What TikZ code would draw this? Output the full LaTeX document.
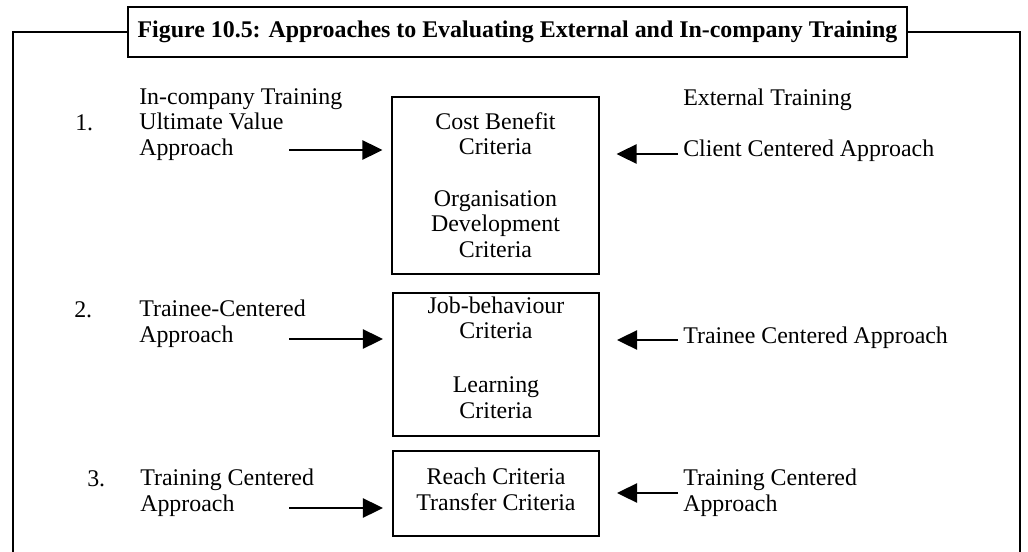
\documentclass[tikz,border=0pt]{standalone}
\usepackage{fontspec}
\setmainfont{Liberation Serif}
\usetikzlibrary{arrows.meta,positioning}

\begin{document}
\begin{tikzpicture}[
    x=0.025cm, y=-0.025cm,
    every node/.style={font=\fontsize{17}{18}\selectfont, inner sep=0pt},
    lbl/.style={anchor=base west, align=left},
    crit/.style={anchor=base, align=center},
    critbox/.style={draw, line width=1.4pt, minimum width=5.15cm},
    arr/.style={-{Triangle[length=5mm,width=4.8mm]}, line width=1.2pt},
    frame/.style={line width=1.6pt}
]
\useasboundingbox (0,0) rectangle (1028,552);

% title and open frame
\node[draw, frame, minimum width=19.475cm, minimum height=1.25cm,
      font=\bfseries\fontsize{17}{18}\selectfont] (title) at (517.5,32)
      {Figure 10.5: Approaches to Evaluating External and In-company Training};
\coordinate (ftl) at (13,32);
\coordinate (fbl) at (13,552);
\coordinate (ftr) at (1020,32);
\coordinate (fbr) at (1020,552);
\draw[frame] (title.west) -- (ftl) -- (fbl);
\draw[frame] (title.east) -- (ftr) -- (fbr);

% criteria boxes (base = last line)
\node[critbox, minimum height=4.425cm] (box1) at (495.5,185.5) {};
\node[critbox, minimum height=3.575cm] (box2) at (496,364.5) {};
\node[critbox, minimum height=2.125cm] (box3) at (496,493.5) {};
\node[crit] (crit1) at (495.5,257) {Cost Benefit\\Criteria\\[19pt]Organisation\\Development\\Criteria};
\node[crit] (crit2) at (496,418) {Job-behaviour\\Criteria\\[20.4pt]Learning\\Criteria};
\node[crit] (crit3) at (496,510) {Reach Criteria\\Transfer Criteria};

% in-company side
\node[lbl] (n1) at (75,130) {1.};
\node[lbl] (in1) at (139,155) {In-company Training\\Ultimate Value\\Approach};
\node[lbl] (n2) at (74,317) {2.};
\node[lbl] (in2) at (139,342) {Trainee-Centered\\Approach};
\node[lbl] (n3) at (87,486) {3.};
\node[lbl] (in3) at (140,511) {Training Centered\\Approach};

% external side
\node[lbl] (ext) at (683,105) {External Training};
\node[lbl] (ex1) at (683,156) {Client Centered Approach};
\node[lbl] (ex2) at (683,343) {Trainee Centered Approach};
\node[lbl] (ex3) at (683,511) {Training Centered\\Approach};

% arrows
\coordinate (l1) at (289,150);
\coordinate (l2) at (289,339);
\coordinate (l3) at (289,508);
\coordinate (r1) at (678,154);
\coordinate (r2) at (678,340);
\coordinate (r3) at (678,493);
\draw[arr, shorten >=0.225cm] (l1) -- (l1 -| box1.west);
\draw[arr, shorten >=0.225cm] (l2) -- (l2 -| box2.west);
\draw[arr, shorten >=0.225cm] (l3) -- (l3 -| box3.west);
\draw[arr, shorten >=0.425cm] (r1) -- (r1 -| box1.east);
\draw[arr, shorten >=0.425cm] (r2) -- (r2 -| box2.east);
\draw[arr, shorten >=0.425cm] (r3) -- (r3 -| box3.east);
\end{tikzpicture}
\end{document}
